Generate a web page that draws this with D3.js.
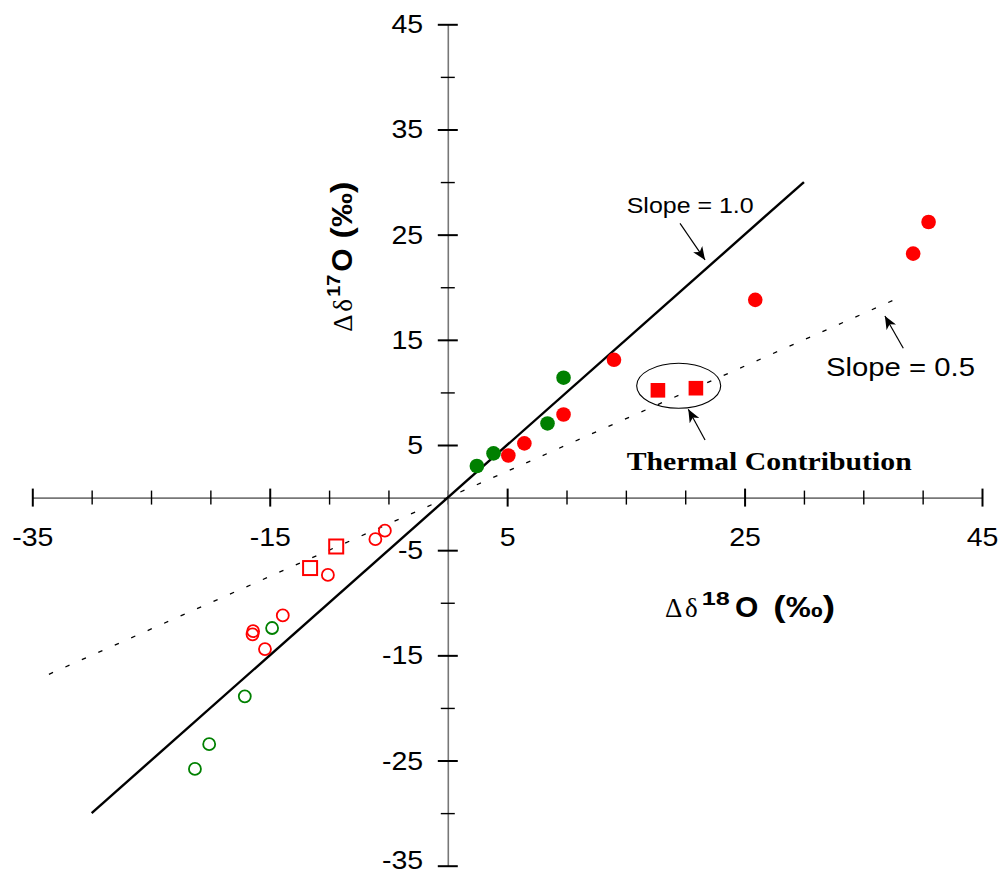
<!DOCTYPE html>
<html>
<head>
<meta charset="utf-8">
<script src="https://cdn.jsdelivr.net/npm/d3@7"></script>
<style>body{margin:0;background:#fff}</style>
</head>
<body>
<div id="chart"></div>
<script>
// values
var filledRedX = [40.5, 39.2, 25.9, 14.0, 9.75, 6.45, 5.1];
var filledRedY = [26.2, 23.2, 18.8, 13.1, 7.9, 5.15, 4.0];
var filledGreenX = [2.45, 3.85, 8.4, 9.75];
var filledGreenY = [3.0, 4.2, 7.05, 11.4];
var thermalX = [17.7, 20.9];
var thermalY = [10.2, 10.4];
var openRedX = [-5.3, -6.1, -10.1, -13.9, -16.4, -16.45, -15.4];
var openRedY = [-3.15, -3.95, -7.35, -11.2, -12.7, -13.0, -14.4];
var openRedSqX = [-9.4, -11.6];
var openRedSqY = [-4.65, -6.7];
var openGreenX = [-14.8, -17.1, -20.1, -21.3];
var openGreenY = [-12.4, -18.9, -23.45, -25.8];

var xMajor = [-35, -15, 5, 25, 45];
var xMinor = [-30, -25, -20, -10, -5, 0, 10, 15, 20, 30, 35, 40];
var yMajor = [45, 35, 25, 15, 5, -5, -15, -25, -35];
var yMinor = [40, 30, 20, 10, -10, -20, -30];

var slopeOne = [[-30, -30], [30, 30]];
var slopeHalf = [[-33.6, -16.8], [38, 19]];

var width = 999, height = 874;
var sans = "'Liberation Sans', Arial, sans-serif";
var serif = "'Liberation Serif', 'Times New Roman', serif";

var svg = d3.select("#chart").append("svg")
    .attr("width", width).attr("height", height);

var x = d3.scaleLinear().domain([-35, 45]).range([32.3, 982]);
var y = d3.scaleLinear().domain([-35, 45]).range([865.7, 24.3]);

// arrow head
svg.append("defs").append("marker")
    .attr("id", "ah").attr("viewBox", "0 0 13 11")
    .attr("refX", 13).attr("refY", 5.5)
    .attr("markerWidth", 13).attr("markerHeight", 11)
    .attr("markerUnits", "userSpaceOnUse").attr("orient", "auto")
  .append("path").attr("d", "M0,0 L13,5.5 L0,11 L3.5,5.5 Z").attr("fill", "#000");

function pairs(xs, ys) { return xs.map(function(v, i) { return [v, ys[i]]; }); }
var fmt = function(d) { return String(d); };

// axes
var xAxis = svg.append("g").attr("transform", "translate(0," + y(0) + ")");
xAxis.call(d3.axisBottom(x).tickValues(xMinor).tickSizeOuter(0).tickFormat(""));
xAxis.selectAll(".tick line").attr("y1", -7).attr("y2", 7).attr("stroke", "#000").attr("stroke-width", 1.4);

var xAxisMaj = svg.append("g").attr("transform", "translate(0," + y(0) + ")");
xAxisMaj.call(d3.axisBottom(x).tickValues(xMajor).tickSizeOuter(0).tickFormat(fmt));
xAxisMaj.attr("font-size", 25).attr("font-family", sans);
xAxisMaj.select(".domain").remove();
xAxisMaj.selectAll(".tick line").attr("y1", -9).attr("y2", 9).attr("stroke", "#000").attr("stroke-width", 2);
xAxisMaj.selectAll(".tick text").attr("y", 48.5).attr("dy", null).attr("fill", "#000")
    .attr("transform", "scale(1.14,1)");

var yAxis = svg.append("g").attr("transform", "translate(" + x(0) + ",0)");
yAxis.call(d3.axisLeft(y).tickValues(yMinor).tickSizeOuter(0).tickFormat(""));
yAxis.selectAll(".tick line").attr("x1", -7).attr("x2", 7).attr("stroke", "#000").attr("stroke-width", 1.4);

var yAxisMaj = svg.append("g").attr("transform", "translate(" + x(0) + ",0)");
yAxisMaj.call(d3.axisLeft(y).tickValues(yMajor).tickSizeOuter(0).tickFormat(fmt));
yAxisMaj.attr("font-size", 25).attr("font-family", sans);
yAxisMaj.select(".domain").remove();
yAxisMaj.selectAll(".tick line").attr("x1", -10).attr("x2", 10).attr("stroke", "#000").attr("stroke-width", 2);
yAxisMaj.selectAll(".tick text").attr("x", -24.6 / 1.14).attr("fill", "#000")
    .attr("dy", function(d) { return d === -35 ? 3 : 8.5; })
    .attr("transform", "scale(1.14,1)");

svg.selectAll(".domain").attr("stroke", "#777").attr("stroke-width", 1.6);

// reference lines
var line = d3.line().x(function(d) { return x(d[0]); }).y(function(d) { return y(d[1]); });
svg.append("path").attr("d", line(slopeHalf)).attr("fill", "none")
    .attr("stroke", "#000").attr("stroke-width", 1.3).attr("stroke-dasharray", "4.5,13.5");
svg.append("path").attr("d", line(slopeOne)).attr("fill", "none")
    .attr("stroke", "#000").attr("stroke-width", 2.4);

// thermal ellipse
svg.append("ellipse")
    .attr("cx", x(19.45)).attr("cy", y(10.63))
    .attr("rx", x(19.45 + 3.54) - x(19.45)).attr("ry", y(10.63) - y(10.63 + 2.14))
    .attr("fill", "none").attr("stroke", "#000").attr("stroke-width", 1.1);

// points
var red = "#ff0000", green = "#008000";
svg.append("g").selectAll("circle").data(pairs(openRedX, openRedY)).join("circle")
    .attr("cx", function(d) { return x(d[0]); }).attr("cy", function(d) { return y(d[1]); })
    .attr("r", 6).attr("fill", "none").attr("stroke", red).attr("stroke-width", 1.8);
svg.append("g").selectAll("circle").data(pairs(openGreenX, openGreenY)).join("circle")
    .attr("cx", function(d) { return x(d[0]); }).attr("cy", function(d) { return y(d[1]); })
    .attr("r", 6).attr("fill", "none").attr("stroke", green).attr("stroke-width", 1.8);
svg.append("g").selectAll("rect").data(pairs(openRedSqX, openRedSqY)).join("rect")
    .attr("x", function(d) { return x(d[0]) - 7; }).attr("y", function(d) { return y(d[1]) - 7; })
    .attr("width", 14).attr("height", 14).attr("fill", "none").attr("stroke", red).attr("stroke-width", 2);
svg.append("g").selectAll("circle").data(pairs(filledRedX, filledRedY)).join("circle")
    .attr("cx", function(d) { return x(d[0]); }).attr("cy", function(d) { return y(d[1]); })
    .attr("r", 7.3).attr("fill", red);
svg.append("g").selectAll("circle").data(pairs(filledGreenX, filledGreenY)).join("circle")
    .attr("cx", function(d) { return x(d[0]); }).attr("cy", function(d) { return y(d[1]); })
    .attr("r", 7.3).attr("fill", green);
svg.append("g").selectAll("rect").data(pairs(thermalX, thermalY)).join("rect")
    .attr("x", function(d) { return x(d[0]) - 7.3; }).attr("y", function(d) { return y(d[1]) - 7.3; })
    .attr("width", 14.6).attr("height", 14.6).attr("fill", red);

// arrows
function arrow(a, b) {
    svg.append("line").attr("x1", x(a[0])).attr("y1", y(a[1])).attr("x2", x(b[0])).attr("y2", y(b[1]))
        .attr("stroke", "#000").attr("stroke-width", 1.2).attr("marker-end", "url(#ah)");
}
arrow([19.56, 26.08], [21.67, 22.6]);
arrow([38.37, 14.2], [36.82, 17.26]);
arrow([21.67, 5.48], [20.26, 8.4]);

// labels
svg.append("text").attr("x", 626.7).attr("y", 213.3).attr("font-family", sans).attr("font-size", 21.5)
    .attr("textLength", 127).attr("lengthAdjust", "spacingAndGlyphs").text("Slope = 1.0");
svg.append("text").attr("x", 826).attr("y", 376).attr("font-family", sans).attr("font-size", 26)
    .attr("textLength", 149).attr("lengthAdjust", "spacingAndGlyphs").text("Slope = 0.5");
svg.append("text").attr("x", 626.7).attr("y", 470).attr("font-family", serif).attr("font-size", 25)
    .attr("font-weight", "bold").attr("textLength", 285).attr("lengthAdjust", "spacingAndGlyphs")
    .text("Thermal Contribution");

// axis titles: pieces laid along the baseline
function axisTitle(g, sup, off) {
    g.append("text").attr("x", 0).attr("y", 0).attr("font-family", serif).attr("font-size", 27).text("\u0394");
    g.append("text").attr("x", off[0]).attr("y", 0).attr("font-family", serif).attr("font-size", 27).text("\u03b4");
    g.append("text").attr("x", off[1]).attr("y", -12).attr("font-family", sans).attr("font-size", 19)
        .attr("font-weight", "bold").attr("textLength", off[2]).attr("lengthAdjust", "spacingAndGlyphs").text(sup);
    g.append("text").attr("x", off[3]).attr("y", 0).attr("font-family", sans).attr("font-size", 30)
        .attr("font-weight", "bold").text("O");
    g.append("text").attr("x", off[4]).attr("y", 0).attr("font-family", sans).attr("font-size", 30)
        .attr("font-weight", "bold").attr("textLength", off[5]).attr("lengthAdjust", "spacingAndGlyphs").text("(\u2030)");
}
axisTitle(svg.append("g").attr("transform", "translate(665,617)"), "18", [20, 36.7, 28, 70, 108.3, 61.7]);
axisTitle(svg.append("g").attr("transform", "translate(351.7,331.7) rotate(-90)"), "17", [20, 35, 22, 60, 93.3, 56.7]);
</script>
</body>
</html>
